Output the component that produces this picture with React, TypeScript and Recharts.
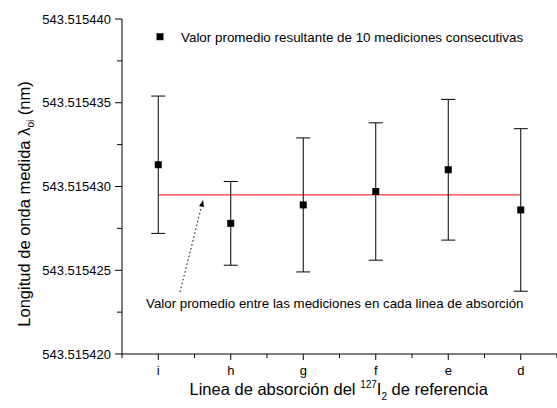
import React from 'react';
import { ComposedChart, Scatter, ErrorBar, XAxis, YAxis, ReferenceLine } from 'recharts';

const categories = ['i', 'h', 'g', 'f', 'e', 'd'];
const means = [543.5154313, 543.5154278, 543.5154289, 543.5154297, 543.515431, 543.5154286];
const errors = [0.0000041, 0.0000025, 0.000004, 0.0000041, 0.0000042, 0.00000485];
const overallMean = 543.5154295;
const yTicks = [543.51542, 543.5154225, 543.515425, 543.5154275, 543.51543, 543.5154325, 543.515435, 543.5154375, 543.51544];
const xTicks = [-0.5, 0, 0.5, 1, 1.5, 2, 2.5, 3, 3.5, 4, 4.5, 5, 5.5];

const data = categories.map((c, i) => ({ x: i, y: means[i], err: errors[i], name: c }));

const FONT = '"Liberation Sans", Arial, sans-serif';

const XTick = (props: any) => {
  const { x, y, payload } = props;
  const v = payload.value;
  const major = Math.abs(v - Math.round(v)) < 1e-6;
  return (
    <g>
      <line x1={x} y1={y} x2={x} y2={y + (major ? 6 : 4)} stroke="#000" strokeWidth={1} />
      {major && (
        <text x={x} y={y + 21} textAnchor="middle" fontFamily={FONT} fontSize={13} fill="#000">
          {categories[Math.round(v)]}
        </text>
      )}
    </g>
  );
};

const YTick = (props: any) => {
  const { x, y, payload } = props;
  const v = payload.value;
  const k = Math.round((v - 543.51542) / 0.0000025);
  const major = k % 2 === 0;
  return (
    <g>
      <line x1={x} y1={y} x2={x - (major ? 7 : 5)} y2={y} stroke="#000" strokeWidth={1} />
      {major && (
        <text x={x - 11} y={y} dy="0.36em" textAnchor="end" fontFamily={FONT} fontSize={13} fill="#000">
          {v.toFixed(6)}
        </text>
      )}
    </g>
  );
};

const Square = (props: any) => {
  const { cx, cy } = props;
  return <rect x={cx - 3.5} y={cy - 3.5} width={7} height={7} fill="#000" />;
};

const ArrowShape = (props: any) => {
  const { x1, y1, x2, y2 } = props;
  const dx = x2 - x1;
  const dy = y2 - y1;
  const len = Math.sqrt(dx * dx + dy * dy);
  const ux = dx / len;
  const uy = dy / len;
  const hl = 7;
  const hw = 2.5;
  const bx = x2 - ux * hl;
  const by = y2 - uy * hl;
  const px = -uy;
  const py = ux;
  return (
    <g>
      <line x1={x1} y1={y1} x2={bx} y2={by} stroke="#000" strokeWidth={1} strokeDasharray="1.5 2.5" />
      <polygon
        points={`${x2},${y2} ${bx + px * hw},${by + py * hw} ${bx - px * hw},${by - py * hw}`}
        fill="#000"
      />
    </g>
  );
};

export default function App() {
  return (
    <div style={{ position: 'absolute', left: 0, top: 0, width: 557, height: 408, background: '#fff' }}>
      <ComposedChart
        width={557}
        height={408}
        data={data}
        margin={{ top: 19, right: 0, bottom: 0, left: 0 }}
      >
        <XAxis
          type="number"
          dataKey="x"
          domain={[-0.5, 5.5]}
          ticks={xTicks}
          interval={0}
          height={54}
          tickSize={0}
          tickMargin={0}
          tickLine={false}
          tick={<XTick />}
          axisLine={{ stroke: '#000', strokeWidth: 1 }}
          allowDecimals
        />
        <YAxis
          type="number"
          dataKey="y"
          domain={[543.51542, 543.51544]}
          ticks={yTicks}
          interval={0}
          width={122}
          tickSize={0}
          tickMargin={0}
          tickLine={false}
          tick={<YTick />}
          axisLine={{ stroke: '#000', strokeWidth: 1 }}
          allowDataOverflow
        />
        <ReferenceLine
          segment={[{ x: 0, y: overallMean }, { x: 5, y: overallMean }]}
          stroke="#ff0000"
          strokeWidth={1}
        />
        <ReferenceLine
          segment={[{ x: 0.3, y: 543.5154237 }, { x: 0.62, y: 543.5154292 }]}
          shape={ArrowShape}
        />
        <Scatter dataKey="y" fill="#000" shape={Square} isAnimationActive={false}>
          <ErrorBar dataKey="err" direction="y" width={7} stroke="#000" strokeWidth={1} />
        </Scatter>
      </ComposedChart>
      <svg
        width={557}
        height={408}
        style={{ position: 'absolute', left: 0, top: 0, pointerEvents: 'none' }}
        fontFamily={FONT}
      >
        <rect x={156.5} y={33.2} width={7} height={7} fill="#000" />
        <text x={181} y={36.7} dy="0.36em" fontSize={13.4} fill="#000">
          Valor promedio resultante de 10 mediciones consecutivas
        </text>
        <text x={146} y={303.3} dy="0.36em" fontSize={13.3} fill="#000">
          Valor promedio entre las mediciones en cada linea de absorción
        </text>
        <text x={338.7} y={395} textAnchor="middle" fontSize={16.5} fill="#000">
          Linea de absorción del <tspan fontSize={10} dy={-7}>127</tspan>
          <tspan fontSize={16.5} dy={7}>I</tspan>
          <tspan fontSize={10} dy={5}>2</tspan>
          <tspan fontSize={16.5} dy={-5}> de referencia</tspan>
        </text>
        <text
          x={30}
          y={204}
          textAnchor="middle"
          fontSize={16.5}
          fill="#000"
          transform="rotate(-90 30 204)"
        >
          Longitud de onda medida λ<tspan fontSize={10} dy={4}>oi</tspan>
          <tspan fontSize={16.5} dy={-4}> (nm)</tspan>
        </text>
      </svg>
    </div>
  );
}
